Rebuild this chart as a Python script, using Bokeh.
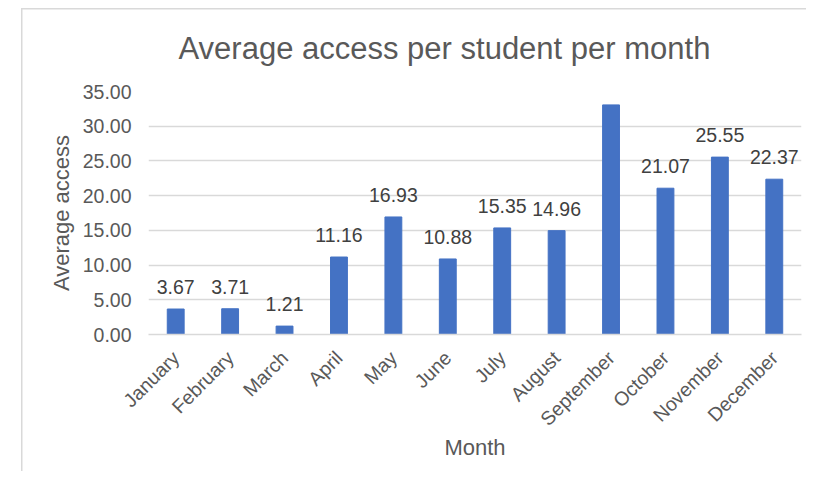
import math
from bokeh.plotting import figure
from bokeh.models import ColumnDataSource, LabelSet, Range1d, NumeralTickFormatter, FixedTicker
from bokeh.core.properties import value
from bokeh.embed import file_html
from bokeh.resources import INLINE

months = ["January", "February", "March", "April", "May", "June", "July",
          "August", "September", "October", "November", "December"]
values = [3.67, 3.71, 1.21, 11.16, 16.93, 10.88, 15.35, 14.96, 33.07, 21.07, 25.55, 22.37]
labels = ["3.67", "3.71", "1.21", "11.16", "16.93", "10.88", "15.35", "14.96",
          "33.07", "21.07", "25.55", "22.37"]
y_ticks = [0, 5, 10, 15, 20, 25, 30, 35]

FONT = "Liberation Sans"
GREY = "#595959"
LINE = "#d9d9d9"
SMALL = "19.5px"

src = ColumnDataSource(data=dict(month=months, value=values, label=labels))

p = figure(x_range=months, y_range=Range1d(0, 35), width=806, height=471,
           output_backend="svg", toolbar_location=None,
           min_border_left=148, min_border_right=5, min_border_top=91, min_border_bottom=137)

p.vbar(x="month", top="value", width=0.31, source=src, fill_color="#4472c4", line_color="#4472c4")

p.add_layout(LabelSet(x="month", y="value", text="label", source=src, y_offset=15,
                      text_align="center", text_baseline="alphabetic",
                      text_font=value(FONT), text_font_size=SMALL, text_color="#404040"))

p.title.text = "Average access per student per month"
p.title.text_font = FONT
p.title.text_font_size = "31px"
p.title.text_font_style = "normal"
p.title.text_color = GREY
p.title.align = "left"
p.title.offset = 30
p.title.standoff = 52

p.outline_line_color = None
p.background_fill_color = "white"
p.border_fill_color = None
p.styles = {
    "background-color": "white",
    "background-image": "linear-gradient(#d9d9d9, #d9d9d9), linear-gradient(#d9d9d9, #d9d9d9)",
    "background-size": "1.5px 100%, 100% 1.5px",
    "background-position": "21px 8px, 21px 8px",
    "background-repeat": "no-repeat",
}

p.xgrid.grid_line_color = None
p.ygrid.grid_line_color = LINE
p.ygrid.grid_line_width = 1.3

p.yaxis.ticker = FixedTicker(ticks=y_ticks)
p.yaxis.formatter = NumeralTickFormatter(format="0.00")
p.yaxis.axis_line_color = None
p.yaxis.major_tick_line_color = None
p.yaxis.minor_tick_line_color = None
p.yaxis.major_label_text_font = FONT
p.yaxis.major_label_text_font_size = SMALL
p.yaxis.major_label_text_color = GREY
p.yaxis.major_label_standoff = 11
p.yaxis.axis_label = "Average access"
p.yaxis.axis_label_text_font = FONT
p.yaxis.axis_label_text_font_size = "22px"
p.yaxis.axis_label_text_font_style = "normal"
p.yaxis.axis_label_text_color = GREY
p.yaxis.axis_label_standoff = 6

p.xaxis.axis_line_color = LINE
p.xaxis.axis_line_width = 1.5
p.xaxis.major_tick_line_color = None
p.xaxis.minor_tick_line_color = None
p.xaxis.major_label_orientation = math.pi / 4
p.xaxis.major_label_text_font = FONT
p.xaxis.major_label_text_font_size = SMALL
p.xaxis.major_label_text_color = GREY
p.xaxis.major_label_standoff = 14
p.xaxis.axis_label = "Month"
p.xaxis.axis_label_text_font = FONT
p.xaxis.axis_label_text_font_size = "22px"
p.xaxis.axis_label_text_font_style = "normal"
p.xaxis.axis_label_text_color = GREY
p.xaxis.axis_label_standoff = -6

open("out.html", "w").write(file_html(p, INLINE))
